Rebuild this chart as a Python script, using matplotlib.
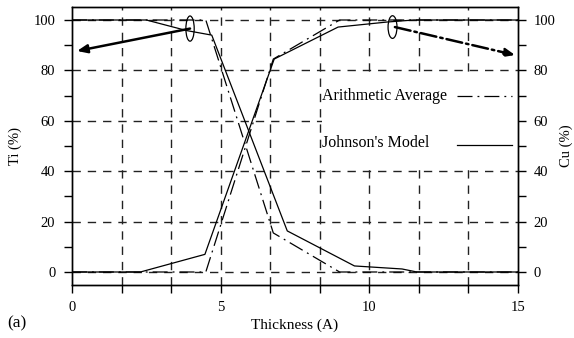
import matplotlib
matplotlib.use("Agg")
import matplotlib.pyplot as plt
import numpy as np
from matplotlib.patches import Ellipse, Rectangle
from matplotlib.ticker import MultipleLocator, FixedLocator

plt.rcParams['font.family'] = ['Liberation Serif', 'DejaVu Serif']

# Data (thickness in Angstrom, composition in %)
ti_johnson_x = [0, 2.5, 3.86, 4.7, 7.24, 9.5, 11.1, 11.6, 15]
ti_johnson_y = [100, 100, 95.8, 94, 16.3, 2.4, 1.2, 0, 0]
ti_arith_x = [0, 4.5, 6.77, 9.0, 15]
ti_arith_y = [100, 100, 15.5, 0, 0]
cu_johnson_x = [0, 2.3, 4.47, 6.8, 8.95, 10.6, 11.5, 15]
cu_johnson_y = [0, 0, 7, 84.5, 97.2, 99.2, 100, 100]
cu_arith_x = [0, 4.5, 6.77, 9.0, 15]
cu_arith_y = [0, 0, 84.5, 100, 100]

x_ticks = [0, 5, 10, 15]
y_ticks = [0, 20, 40, 60, 80, 100]

fig = plt.figure(figsize=(5.74, 3.38), dpi=100)
ax = fig.add_axes([72/574, 1-285/338, (518-72)/574, (285-7)/338])
ax.set_xlim(0, 15)
ax.set_ylim(-5.16, 105.16)

dashdot = (0, (12, 4, 1.5, 4))
lw = 0.9
ax.plot(ti_johnson_x, ti_johnson_y, color='black', lw=lw, zorder=3)
ax.plot(cu_johnson_x, cu_johnson_y, color='black', lw=lw, zorder=3)
ax.plot(ti_arith_x, ti_arith_y, color='black', lw=lw, linestyle=dashdot, zorder=3)
ax.plot(cu_arith_x, cu_arith_y, color='black', lw=lw, linestyle=dashdot, zorder=3)

# grid
grid_kw = dict(color='#222222', lw=1.0, linestyle=(0, (6, 5)), zorder=0)
for gx in np.arange(1, 9) * 5 / 3:
    ax.axvline(gx, **grid_kw)
for gy in y_ticks:
    ax.axhline(gy, **grid_kw)

# ticks
ax.xaxis.set_major_locator(FixedLocator(x_ticks))
ax.xaxis.set_minor_locator(FixedLocator(np.arange(1, 9) * 5 / 3))
ax.set_xticklabels([str(v) for v in x_ticks])
ax.yaxis.set_major_locator(FixedLocator(y_ticks))
ax.yaxis.set_minor_locator(MultipleLocator(10))
ax.set_yticklabels([str(v) for v in y_ticks])
ax.tick_params(axis='both', which='both', direction='out', length=6, width=1.0,
               labelsize=10.5, colors='black')
ax.tick_params(axis='y', pad=6)
ax.tick_params(axis='x', pad=5.5)

ax2 = ax.twinx()
ax2.set_ylim(ax.get_ylim())
ax2.yaxis.set_major_locator(FixedLocator(y_ticks))
ax2.yaxis.set_minor_locator(MultipleLocator(10))
ax2.set_yticklabels([str(v) for v in y_ticks])
ax2.tick_params(axis='y', which='both', direction='out', length=6, width=1.0,
                labelsize=10.5, pad=5)

for a in (ax, ax2):
    for s in a.spines.values():
        s.set_linewidth(1.0)
        s.set_color('black')

ax.set_ylabel('Ti (%)', fontsize=10.5, labelpad=8)
ax2.set_ylabel('Cu (%)', fontsize=10.5, labelpad=3)
ax.set_xlabel('Thickness (A)', fontsize=11, labelpad=3)

# legend background (masks grid)
ax.add_patch(Rectangle((8.4, 41.0), 6.6, 38.0, facecolor='white', edgecolor='none', zorder=1))

# ellipses
ax.add_patch(Ellipse((3.97, 96.6), 0.28, 10.0, fill=False, lw=0.9, color='black', zorder=5))
ax.add_patch(Ellipse((10.78, 97.2), 0.3, 9.0, fill=False, lw=0.9, color='black', zorder=5))

# arrows
ax.annotate('', xy=(0.17, 87.7), xytext=(3.97, 96.6),
            arrowprops=dict(arrowstyle='-|>,head_length=0.6,head_width=0.25',
                            color='black', lw=1.8, shrinkA=0, shrinkB=0))
ax.annotate('', xy=(14.9, 86.1), xytext=(10.86, 97.2),
            arrowprops=dict(arrowstyle='-|>,head_length=0.6,head_width=0.25',
                            color='black', lw=1.8, linestyle='-.', shrinkA=0, shrinkB=0))

# in-plot legend
ax.text(8.42, 69.8, 'Arithmetic Average', fontsize=11.5, va='center', ha='left', zorder=4)
ax.plot([12.95, 14.8], [69.8, 69.8], color='black', lw=lw, linestyle=dashdot, zorder=4)
ax.text(8.42, 51.2, "Johnson's Model", fontsize=11.5, va='center', ha='left', zorder=4)
ax.plot([12.95, 14.8], [50.4, 50.4], color='black', lw=lw, zorder=4)

fig.text(7/574, 1-323/338, '(a)', fontsize=12.5, va='center', ha='left')

fig.savefig('out.png', dpi=100)
